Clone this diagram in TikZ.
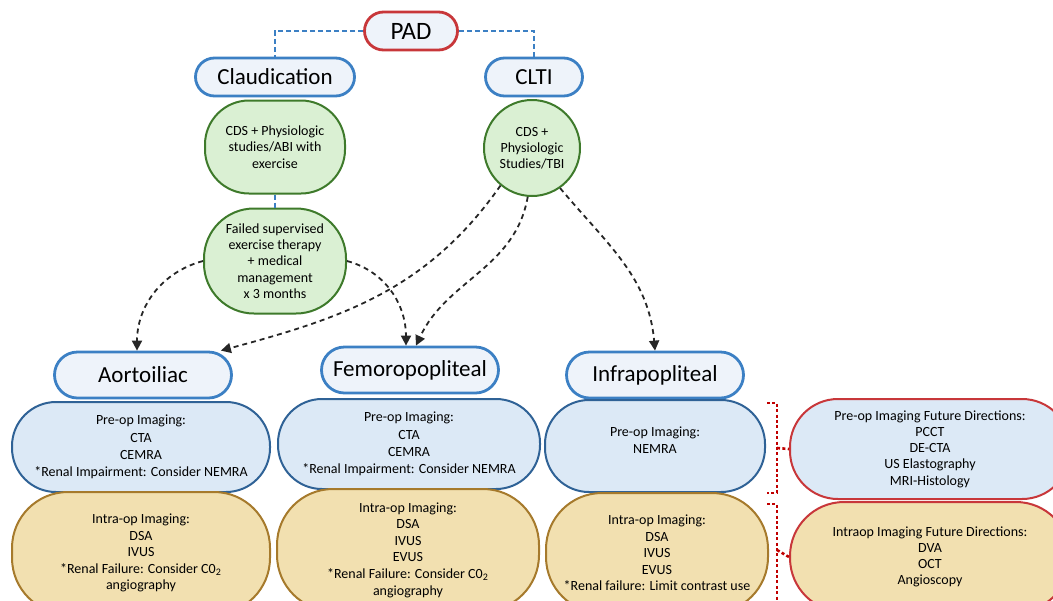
\documentclass[tikz,border=0pt]{standalone}
\usepackage{fontspec}
\setmainfont{Carlito}
\usetikzlibrary{arrows.meta,positioning,calc}

\definecolor{padred}{HTML}{C8373A}
\definecolor{hdrblue}{HTML}{3C80C4}
\definecolor{hdrfill}{HTML}{EEF3FA}
\definecolor{preblue}{HTML}{2F6296}
\definecolor{prefill}{HTML}{DCE9F6}
\definecolor{grnline}{HTML}{3E7A2B}
\definecolor{grnfill}{HTML}{DAF0D3}
\definecolor{tanline}{HTML}{A67A2C}
\definecolor{tanfill}{HTML}{F2E0B0}
\definecolor{dotred}{HTML}{C00000}

\tikzset{
        hdr/.style={draw=hdrblue, fill=hdrfill, line width=1.4pt, inner sep=0pt,
                font=\fontsize{11.5}{13}\selectfont},
        grn/.style={draw=grnline, fill=grnfill, line width=1pt, inner sep=0pt, align=center,
                font=\fontsize{7}{8.1}\selectfont},
        preop/.style={draw=preblue, fill=prefill, line width=1pt, inner sep=0pt, align=center,
                minimum height=45pt, rounded corners=22pt, font=\fontsize{7}{8.6}\selectfont},
        intra/.style={draw=tanline, fill=tanfill, line width=1pt, inner sep=0pt, align=center,
                minimum height=61pt, rounded corners=28pt, font=\fontsize{7}{8.3}\selectfont},
        future/.style={line width=1pt, draw=padred, inner sep=0pt, align=center,
                minimum width=140pt, font=\fontsize{7}{8.1}\selectfont},
        blueline/.style={draw=hdrblue, line width=1pt, dash pattern=on 2.5pt off 1.5pt},
        flow/.style={black!85, line width=0.9pt, dash pattern=on 2.5pt off 2pt,
                -{Triangle[length=5pt,width=5pt]}},
        redbr/.style={draw=dotred, line width=1.3pt, dash pattern=on 1.5pt off 1.2pt}
}

\begin{document}
\begin{tikzpicture}[x=0.5pt, y=-0.5pt]
        \useasboundingbox (0, 0) rectangle (1053, 600);
        \clip (0, 0) rectangle (1053, 600);

        % top of the tree
        \node[hdr, draw=padred, minimum width=46.5pt, minimum height=19pt, rounded corners=9.5pt,
                font=\fontsize{12.5}{14}\selectfont] (pad) at (411, 31) {PAD};
        \node[hdr, minimum width=79.5pt, minimum height=19pt, rounded corners=9.5pt] (claud) at (275, 77) {Claudication};
        \node[hdr, minimum width=48.5pt, minimum height=19pt, rounded corners=9.5pt] (clti) at (534, 77) {CLTI};
        \draw[blueline] (pad.west) -| (claud.north);
        \draw[blueline] (pad.east) -| (clti.north);

        % workup
        \node[grn, minimum width=70pt, minimum height=46.5pt, rounded corners=22pt] (cds) at (275, 147)
                {CDS + Physiologic\\studies/ABI with\\exercise};
        \node[grn, minimum width=71pt, minimum height=52.5pt, rounded corners=25pt] (fail) at (275, 261)
                {Failed supervised\\exercise therapy\\+ medical\\management\\x 3 months};
        \node[grn, circle, minimum size=48pt] (tbi) at (532, 148) {CDS +\\Physiologic\\Studies/TBI};
        \draw[blueline] (cds.south) -- (fail.north);

        % segments
        \node[hdr, minimum width=88.5pt, minimum height=23pt, rounded corners=11.5pt] (aorto) at (143, 375) {Aortoiliac};
        \node[hdr, minimum width=88.5pt, minimum height=23pt, rounded corners=11.5pt] (femoro) at (410, 370) {Femoropopliteal};
        \node[hdr, minimum width=88.5pt, minimum height=23pt, rounded corners=11.5pt] (infra) at (655, 375) {Infrapopliteal};

        \draw[flow] (fail.west) to[out=195, in=90] ([xshift=-3pt]aorto.north);
        \draw[flow] (fail.east) to[out=-15, in=90] ([xshift=-2pt]femoro.north);
        \draw[flow] (tbi.230) to[out=-125, in=15] ([xshift=-6pt]aorto.north east);
        \draw[flow] (tbi.265) to[out=-100, in=65] ([xshift=3pt]femoro.north);
        \draw[flow] (tbi.305) to[out=-50, in=95] (infra.north);

        % imaging per segment
        \node[preop, minimum width=129pt] (pre1) at (141, 447)
                {Pre-op Imaging:\\CTA\\CEMRA\\*Renal Impairment: Consider NEMRA};
        \node[preop, minimum width=131pt] (pre2) at (409, 444)
                {Pre-op Imaging:\\CTA\\CEMRA\\*Renal Impairment: Consider NEMRA};
        \node[preop, minimum width=110pt, minimum height=46pt] (pre3) at (655, 446)
                {Pre-op Imaging:\\NEMRA\\[-3pt]\mbox{}};
        \node[intra, minimum width=129pt] (intra1) at (141, 553)
                {Intra-op Imaging:\\DSA\\IVUS\\*Renal Failure: Consider C0\textsubscript{2}\\angiography};
        \node[intra, minimum width=131pt] (intra2) at (408, 550)
                {Intra-op Imaging:\\DSA\\IVUS\\EVUS\\*Renal Failure: Consider C0\textsubscript{2}\\angiography};
        \node[intra, minimum width=111pt, minimum height=60pt] (intra3) at (657, 553)
                {Intra-op Imaging:\\DSA\\IVUS\\EVUS\\*Renal failure: Limit contrast use};

        % future directions
        \node[future, fill=prefill, minimum height=50pt, rounded corners=24pt] (fut1) at (930, 449)
                {Pre-op Imaging Future Directions:\\PCCT\\DE-CTA\\US Elastography\\MRI-Histology};
        \node[future, fill=tanfill, minimum height=55pt, rounded corners=27pt] (fut2) at (930, 557)
                {Intraop Imaging Future Directions:\\DVA\\OCT\\Angioscopy};
        \draw[redbr] (767, 403) -| (777, 493) -- (767, 493);
        \draw[redbr] (777, 448) -- (fut1.west);
        \draw[redbr] (767, 504) -| (777, 610);
        \draw[redbr] (777, 550) -- (fut2.west);
\end{tikzpicture}
\end{document}
